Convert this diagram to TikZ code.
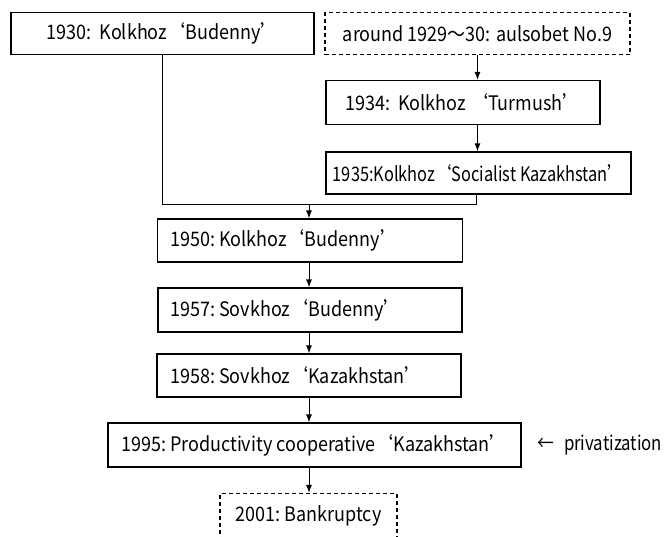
\documentclass[tikz,border=0pt]{standalone}
\usepackage{fontspec}
\setmainfont[FakeStretch=0.9]{Noto Sans CJK JP}
\usetikzlibrary{arrows.meta}
\newcommand\oq{{\addfontfeature{RawFeature=+fwid}‘}}
\newcommand\cq{{\addfontfeature{RawFeature=+fwid}’}}
\tikzset{
  txt/.style={font=\fontsize{20}{23}\selectfont},
  box/.style={draw, line width=1.2pt, inner sep=0pt, txt},
  dbox/.style={box, dash pattern=on 4pt off 3pt},
  arr/.style={line width=1pt, -{Latex[length=8pt,width=6pt]}},
  ln/.style={line width=1pt}
}
\begin{document}
\begin{tikzpicture}[x=1pt,y=-1pt]
\useasboundingbox (0,0) rectangle (667,536);
\node[box, minimum width=303pt, minimum height=42pt] (b30) at (162.5,33.5) {1930:\ \ Kolkhoz\oq Budenny\cq};
\node[dbox, minimum width=305pt, minimum height=42pt] (d29) at (477.5,33.5) {around 1929～30: aulsobet No.9};
\node[box, minimum width=274pt, minimum height=44pt] (b34) at (463,102.5) {1934:\ \ Kolkhoz\ \oq Turmush\cq};
\node[box, minimum width=305pt, minimum height=42pt] (b35) at (478.5,173) {\addfontfeature{FakeStretch=0.82}1935:Kolkhoz\oq Socialist Kazakhstan\cq};
\node[box, minimum width=305pt, minimum height=43pt] (b50) at (310,240.5) {};
\node[anchor=west, txt, inner sep=0pt] (t50) at (170,240.5) {1950:\ Kolkhoz\oq Budenny\cq};
\node[box, minimum width=304pt, minimum height=44pt] (b57) at (310,310) {};
\node[anchor=west, txt, inner sep=0pt] (t57) at (170,310) {1957:\ Sovkhoz\oq Budenny\cq};
\node[box, minimum width=304pt, minimum height=43pt] (b58) at (309,375.5) {};
\node[anchor=west, txt, inner sep=0pt] (t58) at (170,375.5) {1958:\ Sovkhoz\oq Kazakhstan\cq};
\node[box, minimum width=413pt, minimum height=44pt] (b95) at (314.5,445) {1995:\ Productivity cooperative\oq Kazakhstan\cq};
\node[anchor=west, txt, inner sep=0pt] (priv) at (537,445) {\addfontfeature{FakeStretch=0.84}←\hspace{10pt}privatization};
\node[dbox, minimum width=177pt, minimum height=44pt] (b01) at (308.5,515.5) {2001:\ Bankruptcy};
\coordinate (m) at (309,204);
\draw[arr] (d29.south) -- (d29.south |- b34.north);
\draw[arr] (b34.south -| d29.south) -- (b35.north -| d29.south);
\draw[ln] (b30.south) |- (m);
\draw[ln] (b35.south -| 476,0) |- (m);
\draw[arr] (m) -- (m |- b50.north);
\draw[arr] (b50.south -| m) -- (b57.north -| m);
\draw[arr] (b57.south -| m) -- (b58.north -| m);
\draw[arr] (b58.south -| m) -- (b95.north -| m);
\draw[arr] (b95.south -| m) -- (b01.north -| m);
\end{tikzpicture}
\end{document}
